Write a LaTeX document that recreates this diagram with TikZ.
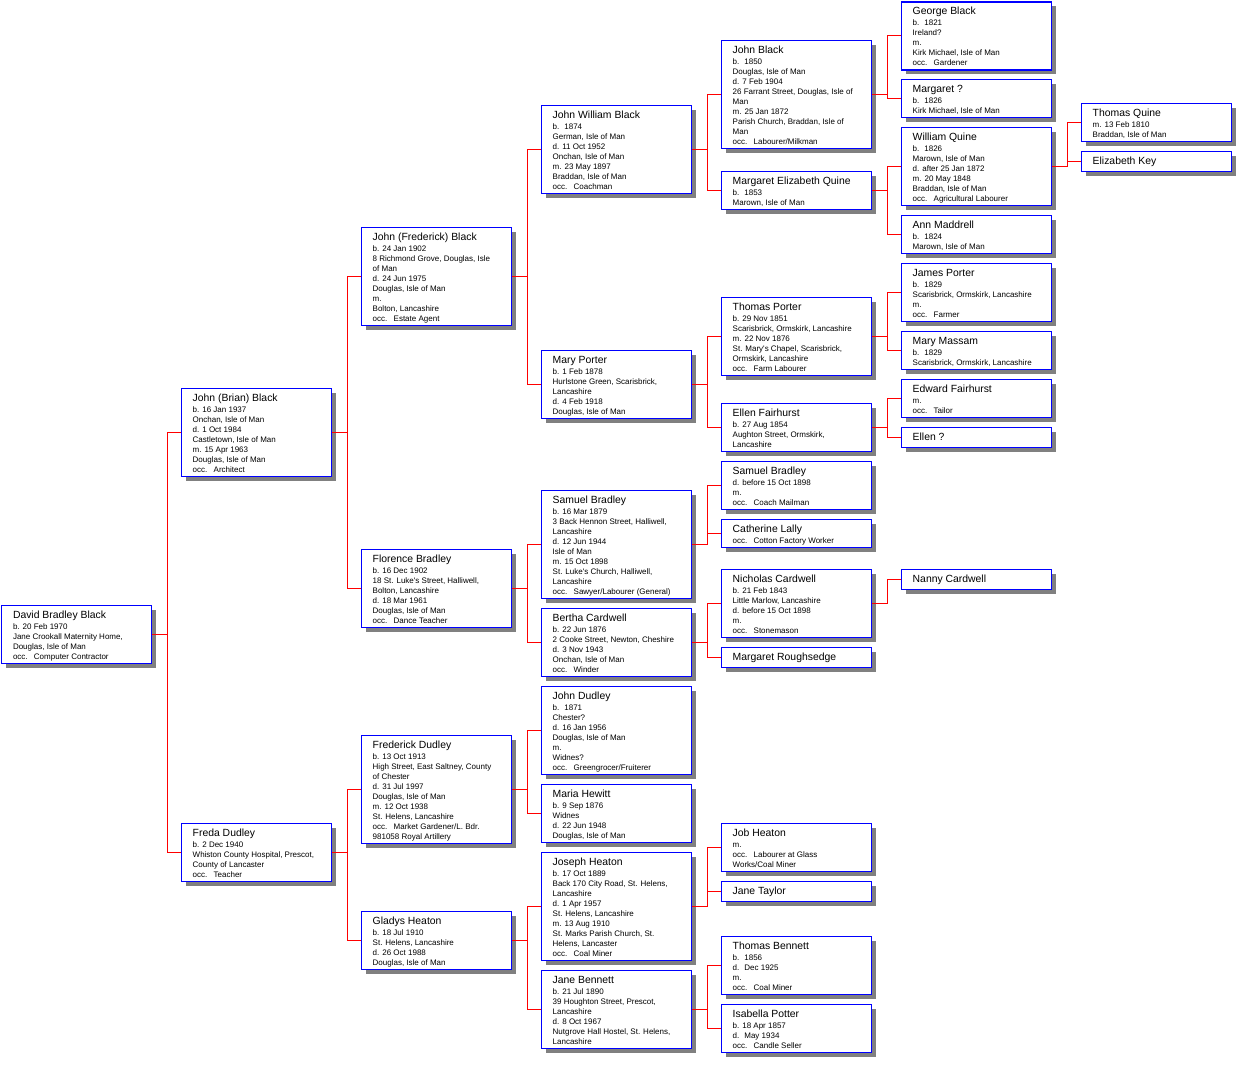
\documentclass[tikz,border=0pt]{standalone}
\usepackage{fontspec}
\setmainfont{Liberation Sans}
\newcommand\nmfont{\fontsize{10.4}{12}\selectfont}
\newcommand\dtfont{\fontsize{8}{10}\selectfont}
\newcommand\yy{\hspace{5pt}}
\newcommand\oc{occ.\hspace{6.3pt}}
\newcommand\ap{\textquotesingle}
\definecolor{boxblue}{RGB}{0,0,255}
\definecolor{shadowgray}{RGB}{128,128,128}
\definecolor{linkred}{RGB}{255,0,0}
\tikzset{
 pbox/.style={draw=boxblue, line width=1.6pt, fill=white, anchor=north west, inner sep=0pt, minimum width=150pt},
 pshadow/.style={fill=shadowgray},
 pname/.style={anchor=base west, inner sep=0pt, font=\nmfont},
 pdet/.style={anchor=base west, inner sep=0pt, font=\dtfont},
 conn/.style={draw=linkred, line width=1pt},
}
\newcommand\person[6]{%
 \fill[pshadow] (#2+5,#3+5.5) rectangle ++(150,#4);
 \node[pbox, minimum height=#4pt] (#1) at (#2,#3+0.5) {};
 \node[pname] (#1-n) at (#2+12,#3+14.5) {#5};
 \if\relax\detokenize{#6}\relax\else
 \node[pdet] (#1-d) at (#2+12,#3+25.2) {\begin{tabular}[t]{@{}l@{}}#6\end{tabular}};
 \fi}
\begin{document}
\begin{tikzpicture}[x=1pt,y=-1pt]
\useasboundingbox[fill=white] (0,0) rectangle (1255,1076);
% column 0
\person{david}{0.8}{604}{58}{David Bradley Black}{b. 20 Feb 1970\\Jane Crookall Maternity Home,\\Douglas, Isle of Man\\\oc Computer Contractor}
% column 1
\person{jbrian}{180.5}{387}{88}{John (Brian) Black}{b. 16 Jan 1937\\Onchan, Isle of Man\\d. 1 Oct 1984\\Castletown, Isle of Man\\m. 15 Apr 1963\\Douglas, Isle of Man\\\oc Architect}
\person{freda}{180.5}{822}{58}{Freda Dudley}{b. 2 Dec 1940\\Whiston County Hospital, Prescot,\\County of Lancaster\\\oc Teacher}
% column 2
\person{jfred}{360.5}{226}{98}{John (Frederick) Black}{b. 24 Jan 1902\\8 Richmond Grove, Douglas, Isle\\of Man\\d. 24 Jun 1975\\Douglas, Isle of Man\\m.\\Bolton, Lancashire\\\oc Estate Agent}
\person{florence}{360.5}{548}{78}{Florence Bradley}{b. 16 Dec 1902\\18 St. Luke\ap s Street, Halliwell,\\Bolton, Lancashire\\d. 18 Mar 1961\\Douglas, Isle of Man\\\oc Dance Teacher}
\person{frederick}{360.5}{734}{108}{Frederick Dudley}{b. 13 Oct 1913\\High Street, East Saltney, County\\of Chester\\d. 31 Jul 1997\\Douglas, Isle of Man\\m. 12 Oct 1938\\St. Helens, Lancashire\\\oc Market Gardener/L. Bdr.\\981058 Royal Artillery}
\person{gladys}{360.5}{910}{58}{Gladys Heaton}{b. 18 Jul 1910\\St. Helens, Lancashire\\d. 26 Oct 1988\\Douglas, Isle of Man}
% column 3
\person{jwb}{540.5}{104}{88}{John William Black}{b.\yy 1874\\German, Isle of Man\\d. 11 Oct 1952\\Onchan, Isle of Man\\m. 23 May 1897\\Braddan, Isle of Man\\\oc Coachman}
\person{maryp}{540.5}{349}{68}{Mary Porter}{b. 1 Feb 1878\\Hurlstone Green, Scarisbrick,\\Lancashire\\d. 4 Feb 1918\\Douglas, Isle of Man}
\person{samuel}{540.5}{489}{108}{Samuel Bradley}{b. 16 Mar 1879\\3 Back Hennon Street, Halliwell,\\Lancashire\\d. 12 Jun 1944\\Isle of Man\\m. 15 Oct 1898\\St. Luke\ap s Church, Halliwell,\\Lancashire\\\oc Sawyer/Labourer (General)}
\person{bertha}{540.5}{607}{68}{Bertha Cardwell}{b. 22 Jun 1876\\2 Cooke Street, Newton, Cheshire\\d. 3 Nov 1943\\Onchan, Isle of Man\\\oc Winder}
\person{jdudley}{540.5}{685}{88}{John Dudley}{b.\yy 1871\\Chester?\\d. 16 Jan 1956\\Douglas, Isle of Man\\m.\\Widnes?\\\oc Greengrocer/Fruiterer}
\person{maria}{540.5}{783}{58}{Maria Hewitt}{b. 9 Sep 1876\\Widnes\\d. 22 Jun 1948\\Douglas, Isle of Man}
\person{joseph}{540.5}{851}{108}{Joseph Heaton}{b. 17 Oct 1889\\Back 170 City Road, St. Helens,\\Lancashire\\d. 1 Apr 1957\\St. Helens, Lancashire\\m. 13 Aug 1910\\St. Marks Parish Church, St.\\Helens, Lancaster\\\oc Coal Miner}
\person{janeb}{540.5}{969}{78}{Jane Bennett}{b. 21 Jul 1890\\39 Houghton Street, Prescot,\\Lancashire\\d. 8 Oct 1967\\Nutgrove Hall Hostel, St. Helens,\\Lancashire}
% column 4
\person{jblack}{720.5}{39}{108}{John Black}{b.\yy 1850\\Douglas, Isle of Man\\d. 7 Feb 1904\\26 Farrant Street, Douglas, Isle of\\Man\\m. 25 Jan 1872\\Parish Church, Braddan, Isle of\\Man\\\oc Labourer/Milkman}
\person{meq}{720.5}{170}{38}{Margaret Elizabeth Quine}{b.\yy 1853\\Marown, Isle of Man}
\person{tporter}{720.5}{296}{78}{Thomas Porter}{b. 29 Nov 1851\\Scarisbrick, Ormskirk, Lancashire\\m. 22 Nov 1876\\St. Mary\ap s Chapel, Scarisbrick,\\Ormskirk, Lancashire\\\oc Farm Labourer}
\person{ellenf}{720.5}{402}{48}{Ellen Fairhurst}{b. 27 Aug 1854\\Aughton Street, Ormskirk,\\Lancashire}
\person{samuelb}{720.5}{460}{48}{Samuel Bradley}{d. before 15 Oct 1898\\m.\\\oc Coach Mailman}
\person{catherine}{720.5}{518}{28}{Catherine Lally}{\oc Cotton Factory Worker}
\person{nicholas}{720.5}{568}{68}{Nicholas Cardwell}{b. 21 Feb 1843\\Little Marlow, Lancashire\\d. before 15 Oct 1898\\m.\\\oc Stonemason}
\person{margaretr}{720.5}{646}{20}{Margaret Roughsedge}{}
\person{job}{720.5}{822}{48}{Job Heaton}{m.\\\oc Labourer at Glass\\Works/Coal Miner}
\person{janet}{720.5}{880}{20}{Jane Taylor}{}
\person{tbennett}{720.5}{935}{58}{Thomas Bennett}{b.\yy 1856\\d.\yy Dec 1925\\m.\\\oc Coal Miner}
\person{isabella}{720.5}{1003}{48}{Isabella Potter}{b. 18 Apr 1857\\d.\yy May 1934\\\oc Candle Seller}
% column 5
\person{george}{900.5}{0.4}{68}{George Black}{b.\yy 1821\\Ireland?\\m.\\Kirk Michael, Isle of Man\\\oc Gardener}
\person{margaretq}{900.5}{78}{38}{Margaret ?}{b.\yy 1826\\Kirk Michael, Isle of Man}
\person{wquine}{900.5}{126}{78}{William Quine}{b.\yy 1826\\Marown, Isle of Man\\d. after 25 Jan 1872\\m. 20 May 1848\\Braddan, Isle of Man\\\oc Agricultural Labourer}
\person{ann}{900.5}{214}{38}{Ann Maddrell}{b.\yy 1824\\Marown, Isle of Man}
\person{jporter}{900.5}{262}{58}{James Porter}{b.\yy 1829\\Scarisbrick, Ormskirk, Lancashire\\m.\\\oc Farmer}
\person{massam}{900.5}{330}{38}{Mary Massam}{b.\yy 1829\\Scarisbrick, Ormskirk, Lancashire}
\person{edward}{900.5}{378}{38}{Edward Fairhurst}{m.\\\oc Tailor}
\person{elleq}{900.5}{426}{20}{Ellen ?}{}
\person{nanny}{900.5}{568}{20}{Nanny Cardwell}{}
% column 6
\person{tquine}{1080.5}{102}{38}{Thomas Quine}{m. 13 Feb 1810\\Braddan, Isle of Man}
\person{ekey}{1080.5}{150}{20}{Elizabeth Key}{}
% connectors
\foreach \p/\a/\b in {david/jbrian/freda, jbrian/jfred/florence, freda/frederick/gladys,
  jfred/jwb/maryp, florence/samuel/bertha, frederick/jdudley/maria, gladys/joseph/janeb,
  jwb/jblack/meq, maryp/tporter/ellenf, samuel/samuelb/catherine, bertha/nicholas/margaretr,
  joseph/job/janet, janeb/tbennett/isabella, jblack/george/margaretq, meq/wquine/ann,
  tporter/jporter/massam, ellenf/edward/elleq, wquine/tquine/ekey}
  {\draw[conn] (\p.east) -- ++(15,0) |- (\a.west);
   \draw[conn] (\p.east) -- ++(15,0) |- (\b.west);}
\draw[conn] (nicholas.east) -- ++(15,0) |- (nanny.west);
\end{tikzpicture}
\end{document}
